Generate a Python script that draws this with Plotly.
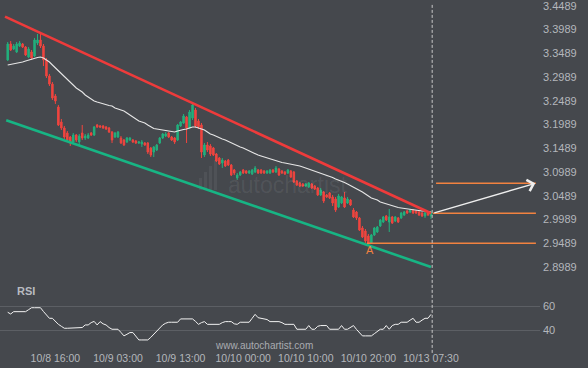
import plotly.graph_objects as go

# ---------------- data ----------------
tick_idx = [16, 37, 58, 79, 100, 121, 142]
tick_labels = ["10/8 16:00", "10/9 03:00", "10/9 13:00", "10/10 00:00",
               "10/10 10:00", "10/10 20:00", "10/13 07:30"]

open_ = [3.3346, 3.3683, 3.3578, 3.3515, 3.3641, 3.3683, 3.3620, 3.3410, 3.3515, 3.3431,
         3.3704, 3.3767, 3.3641, 3.3346, 3.3010, 3.2841, 3.2589, 3.2358, 3.2042, 3.1916,
         3.1810, 3.1726, 3.1621, 3.1768, 3.1621, 3.1810, 3.1705, 3.1705, 3.1810, 3.1768,
         3.1979, 3.1958, 3.1958, 3.1937, 3.1916, 3.1831, 3.1726, 3.1726, 3.1705, 3.1663,
         3.1621, 3.1663, 3.1663, 3.1642, 3.1600, 3.1579, 3.1600, 3.1600, 3.1495, 3.1410,
         3.1452, 3.1600, 3.1705, 3.1747, 3.1810, 3.1726, 3.1705, 3.1663, 3.1958, 3.2021,
         3.2147, 3.1916, 3.2126, 3.2294, 3.2063, 3.1979, 3.1347, 3.1558, 3.1537, 3.1495,
         3.1368, 3.1284, 3.1179, 3.1221, 3.1242, 3.1137, 3.1031, 3.0863, 3.0926, 3.1031,
         3.1010, 3.0968, 3.0947, 3.0989, 3.1031, 3.1031, 3.1010, 3.0968, 3.0968, 3.1031,
         3.0989, 3.1053, 3.1010, 3.0989, 3.0968, 3.1010, 3.0989, 3.0800, 3.0758, 3.0737,
         3.0695, 3.0674, 3.0737, 3.0695, 3.0653, 3.0506, 3.0569, 3.0506, 3.0548, 3.0464,
         3.0422, 3.0253, 3.0337, 3.0443, 3.0337, 3.0400, 3.0190, 3.0148, 3.0022, 2.9811,
         2.9748, 2.9643, 2.9495, 2.9664, 2.9727, 2.9853, 2.9937, 3.0064, 2.9937, 3.0043,
         2.9958, 3.0022, 3.0022, 3.0085, 3.0169, 3.0148, 3.0190, 3.0169, 3.0148, 3.0127,
         3.0064, 3.0148, 3.0064]

high_ = [3.3725, 3.3746, 3.3683, 3.3725, 3.3746, 3.3704, 3.3641, 3.3620, 3.3557, 3.3810,
         3.3894, 3.3915, 3.3683, 3.3389, 3.3052, 3.2883, 3.2631, 3.2400, 3.2105, 3.1958,
         3.1852, 3.1747, 3.1810, 3.1789, 3.1789, 3.1979, 3.1789, 3.1810, 3.1831, 3.1958,
         3.2000, 3.1979, 3.1979, 3.1958, 3.1937, 3.1852, 3.1831, 3.1852, 3.1747, 3.1684,
         3.1726, 3.1726, 3.1684, 3.1663, 3.1642, 3.1663, 3.1621, 3.1621, 3.1516, 3.1537,
         3.1579, 3.1726, 3.1810, 3.1831, 3.1831, 3.1747, 3.1726, 3.2000, 3.2063, 3.2210,
         3.2168, 3.2294, 3.2463, 3.2337, 3.2105, 3.2021, 3.1600, 3.1621, 3.1579, 3.1516,
         3.1389, 3.1305, 3.1284, 3.1242, 3.1263, 3.1158, 3.1053, 3.0968, 3.1010, 3.1053,
         3.1031, 3.1031, 3.1053, 3.1116, 3.1053, 3.1053, 3.1031, 3.1031, 3.1053, 3.1053,
         3.1116, 3.1074, 3.1031, 3.1010, 3.1053, 3.1031, 3.1010, 3.0821, 3.0779, 3.0758,
         3.0758, 3.0779, 3.0758, 3.0716, 3.0674, 3.0653, 3.0590, 3.0527, 3.0569, 3.0506,
         3.0464, 3.0527, 3.0485, 3.0569, 3.0464, 3.0422, 3.0232, 3.0169, 3.0043, 2.9853,
         2.9790, 2.9685, 2.9685, 2.9832, 2.9853, 3.0001, 3.0064, 3.0085, 3.0211, 3.0064,
         3.0064, 3.0043, 3.0148, 3.0169, 3.0190, 3.0211, 3.0211, 3.0190, 3.0169, 3.0148,
         3.0148, 3.0169, 3.0169]

low_ = [3.3325, 3.3536, 3.3557, 3.3494, 3.3620, 3.3599, 3.3431, 3.3389, 3.3346, 3.3410,
        3.3662, 3.3599, 3.3220, 3.2968, 3.2799, 3.2505, 3.2421, 3.1958, 3.1873, 3.1684,
        3.1621, 3.1537, 3.1579, 3.1621, 3.1537, 3.1663, 3.1663, 3.1684, 3.1747, 3.1747,
        3.1916, 3.1916, 3.1895, 3.1873, 3.1810, 3.1600, 3.1705, 3.1705, 3.1579, 3.1537,
        3.1600, 3.1642, 3.1600, 3.1579, 3.1579, 3.1516, 3.1537, 3.1368, 3.1305, 3.1305,
        3.1431, 3.1579, 3.1684, 3.1726, 3.1705, 3.1642, 3.1579, 3.1642, 3.1937, 3.2000,
        3.1600, 3.1895, 3.2084, 3.1916, 3.1895, 3.1284, 3.1305, 3.1410, 3.1326, 3.1326,
        3.1200, 3.1137, 3.1074, 3.1095, 3.1116, 3.0905, 3.0926, 3.0821, 3.0905, 3.0947,
        3.0947, 3.0947, 3.0926, 3.0968, 3.0947, 3.0947, 3.0947, 3.0947, 3.0947, 3.0968,
        3.0968, 3.0905, 3.0947, 3.0926, 3.0947, 3.0863, 3.0758, 3.0695, 3.0674, 3.0674,
        3.0674, 3.0653, 3.0632, 3.0611, 3.0485, 3.0485, 3.0337, 3.0443, 3.0422, 3.0274,
        3.0148, 3.0232, 3.0316, 3.0232, 3.0316, 3.0274, 3.0022, 2.9979, 2.9748, 2.9601,
        2.9495, 2.9474, 2.9474, 2.9643, 2.9706, 2.9832, 2.9916, 2.9958, 2.9727, 2.9895,
        2.9937, 2.9916, 3.0001, 3.0064, 3.0106, 3.0127, 3.0106, 3.0106, 3.0064, 3.0043,
        3.0022, 3.0064, 3.0001]

close_ = [3.3683, 3.3557, 3.3641, 3.3683, 3.3704, 3.3620, 3.3452, 3.3578, 3.3389, 3.3767,
          3.3767, 3.3641, 3.3346, 3.3010, 3.2841, 3.2547, 3.2484, 3.1979, 3.1916, 3.1726,
          3.1663, 3.1600, 3.1768, 3.1663, 3.1747, 3.1705, 3.1747, 3.1768, 3.1768, 3.1937,
          3.1937, 3.1937, 3.1916, 3.1895, 3.1831, 3.1663, 3.1810, 3.1831, 3.1600, 3.1558,
          3.1705, 3.1705, 3.1621, 3.1600, 3.1621, 3.1621, 3.1558, 3.1410, 3.1347, 3.1516,
          3.1558, 3.1705, 3.1789, 3.1789, 3.1726, 3.1663, 3.1621, 3.1979, 3.2042, 3.2168,
          3.1916, 3.2252, 3.2400, 3.1958, 3.1937, 3.1410, 3.1558, 3.1452, 3.1368, 3.1347,
          3.1221, 3.1158, 3.1242, 3.1116, 3.1137, 3.0926, 3.0968, 3.0926, 3.0989, 3.0968,
          3.0968, 3.1010, 3.1031, 3.1074, 3.0968, 3.0968, 3.0968, 3.1010, 3.1031, 3.0989,
          3.1074, 3.0926, 3.0968, 3.0947, 3.1031, 3.0884, 3.0779, 3.0716, 3.0695, 3.0695,
          3.0737, 3.0758, 3.0653, 3.0632, 3.0506, 3.0611, 3.0379, 3.0464, 3.0443, 3.0337,
          3.0190, 3.0485, 3.0464, 3.0253, 3.0422, 3.0295, 3.0043, 3.0022, 2.9769, 2.9622,
          2.9537, 2.9495, 2.9664, 2.9811, 2.9832, 2.9979, 3.0043, 2.9979, 3.0043, 2.9916,
          3.0043, 2.9937, 3.0127, 3.0148, 3.0127, 3.0190, 3.0127, 3.0127, 3.0085, 3.0064,
          3.0127, 3.0085, 3.0148]

ma_ = [3.3241, 3.3252, 3.3262, 3.3273, 3.3283, 3.3304, 3.3325, 3.3346, 3.3367, 3.3389,
       3.3399, 3.3410, 3.3389, 3.3346, 3.3304, 3.3241, 3.3178, 3.3115, 3.3052, 3.2989,
       3.2925, 3.2883, 3.2820, 3.2757, 3.2715, 3.2673, 3.2610, 3.2568, 3.2526, 3.2484,
       3.2463, 3.2442, 3.2421, 3.2400, 3.2389, 3.2379, 3.2337, 3.2315, 3.2294, 3.2273,
       3.2231, 3.2189, 3.2147, 3.2105, 3.2063, 3.2042, 3.2021, 3.1979, 3.1937, 3.1905,
       3.1895, 3.1884, 3.1873, 3.1863, 3.1852, 3.1842, 3.1831, 3.1852, 3.1873, 3.1884,
       3.1895, 3.1916, 3.1937, 3.1937, 3.1916, 3.1895, 3.1873, 3.1831, 3.1789, 3.1768,
       3.1737, 3.1705, 3.1684, 3.1663, 3.1632, 3.1600, 3.1579, 3.1537, 3.1516, 3.1495,
       3.1463, 3.1431, 3.1410, 3.1379, 3.1347, 3.1326, 3.1305, 3.1284, 3.1263, 3.1242,
       3.1221, 3.1200, 3.1189, 3.1179, 3.1168, 3.1158, 3.1147, 3.1137, 3.1116, 3.1095,
       3.1074, 3.1053, 3.1031, 3.1010, 3.0989, 3.0968, 3.0947, 3.0926, 3.0905, 3.0874,
       3.0842, 3.0821, 3.0800, 3.0768, 3.0737, 3.0706, 3.0674, 3.0643, 3.0611, 3.0569,
       3.0527, 3.0485, 3.0443, 3.0422, 3.0400, 3.0358, 3.0337, 3.0316, 3.0295, 3.0274,
       3.0253, 3.0242, 3.0232, 3.0221, 3.0211, 3.0211, 3.0200, 3.0190, 3.0179, 3.0169,
       3.0169, 3.0158, 3.0148]

rsi_ = [54.9, 53.5, 55.4, 55.4, 55.4, 55.4, 55.4, 57.0, 58.6, 58.6,
        58.6, 58.6, 55.5, 53.0, 50.0, 50.0, 47.5, 45.1, 43.5, 41.9,
        41.9, 41.9, 41.9, 41.9, 41.9, 42.5, 44.6, 44.6, 46.5, 47.5,
        44.6, 47.3, 45.5, 44.6, 42.5, 41.1, 41.1, 41.1, 38.5, 35.7,
        37.0, 38.4, 38.4, 35.5, 32.4, 32.4, 32.4, 32.4, 34.5, 37.0,
        39.2, 42.0, 44.6, 46.0, 46.8, 46.8, 46.8, 46.8, 49.5, 49.5,
        49.5, 49.5, 49.5, 47.5, 45.1, 46.5, 47.3, 45.1, 45.1, 45.1,
        45.1, 45.1, 46.5, 47.3, 47.3, 47.3, 45.5, 45.1, 46.8, 46.8,
        46.8, 46.8, 50.0, 53.2, 50.5, 50.0, 50.0, 49.0, 47.3, 47.3,
        47.3, 47.3, 46.5, 45.1, 45.1, 45.1, 45.1, 41.1, 41.1, 41.1,
        41.1, 44.1, 41.1, 41.1, 43.5, 44.1, 44.1, 44.1, 41.1, 41.1,
        41.1, 41.1, 44.1, 41.1, 41.1, 42.5, 44.1, 41.0, 38.0, 35.7,
        35.7, 35.7, 35.7, 37.5, 39.5, 41.1, 41.1, 44.1, 41.1, 44.1,
        45.1, 45.1, 46.8, 46.8, 46.8, 48.5, 50.0, 46.8, 46.8, 48.5,
        50.0, 50.0, 53.2]

# channel (resistance / support) end points: (bar index, price)
resist_idx = [-0.9, 142.0]
resist_px = [3.4260, 3.0122]
support_idx = [-0.5, 142.0]
support_px = [3.2077, 2.8990]

# horizontal levels: price, start index, end index
level_px = [2.9489, 3.0120, 3.0752]
level_start = [120.5, 142.6, 143.7]
level_end = [177.2, 177.2, 177.2]

# forecast arrow: from (index, price) to (index, price)
arrow_from = (142.6, 3.0120)
arrow_to = (177.0, 3.0752)
now_idx = 142.4
pattern_point = (121.4, 2.9348)

price_ticks = [2.8989, 2.9489, 2.9989, 3.0489, 3.0989, 3.1489,
               3.1989, 3.2489, 3.2989, 3.3489, 3.3989, 3.4489]
rsi_ticks = [40, 60]

# ---------------- styling ----------------
BG = "#45484d"
GREEN = "#22b07d"
RED = "#f0453f"
ORANGE = "#f28240"
LABEL = "#b4b7bc"
FONT = "Arial, Liberation Sans, sans-serif"

idx = list(range(len(close_)))

fig = go.Figure()

fig.add_trace(go.Candlestick(
    x=idx, open=open_, high=high_, low=low_, close=close_,
    increasing=dict(line=dict(color=GREEN, width=1), fillcolor=GREEN),
    decreasing=dict(line=dict(color=RED, width=1), fillcolor=RED),
    whiskerwidth=0, xaxis="x", yaxis="y", hoverinfo="skip"))

fig.add_trace(go.Scatter(x=idx, y=ma_, mode="lines",
                         line=dict(color="#e6e6e6", width=1.1), yaxis="y", hoverinfo="skip"))

fig.add_trace(go.Scatter(x=resist_idx, y=resist_px, mode="lines",
                         line=dict(color="#ee3b3b", width=2.6), yaxis="y", hoverinfo="skip"))
fig.add_trace(go.Scatter(x=support_idx, y=support_px, mode="lines",
                         line=dict(color="#17b584", width=2.6), yaxis="y", hoverinfo="skip"))

for p, s, e in zip(level_px, level_start, level_end):
    fig.add_trace(go.Scatter(x=[s, e], y=[p, p], mode="lines",
                             line=dict(color=ORANGE, width=1.4), yaxis="y", hoverinfo="skip"))

fig.add_trace(go.Scatter(x=idx, y=rsi_, mode="lines",
                         line=dict(color="#f2f2f2", width=1), yaxis="y2", hoverinfo="skip"))

PLOT_H = 347
price_top_px, price_bot_px = 0, 275
rsi_top_px, rsi_bot_px = 285, 347

fig.update_layout(
    template="none",
    width=588, height=368,
    margin=dict(l=0, r=48, t=0, b=368 - PLOT_H, pad=0, autoexpand=False),
    paper_bgcolor=BG, plot_bgcolor=BG,
    showlegend=False, hovermode=False,
    font=dict(family=FONT, color=LABEL, size=11),
    xaxis=dict(range=[-2.583, 178.57], anchor="y2", automargin=False,
               tickvals=tick_idx, ticktext=tick_labels, ticklabelstandoff=3,
               showgrid=False, zeroline=False, showline=False, ticks="",
               tickfont=dict(size=10.5, color=LABEL),
               rangeslider=dict(visible=False)),
    yaxis=dict(domain=[(PLOT_H - price_bot_px) / PLOT_H, 1], range=[2.8822, 3.4609],
               side="right", anchor="x", automargin=False, ticklabeloverflow="allow",
               tickvals=price_ticks, ticktext=[f"{v:.4f}" for v in price_ticks],
               ticklabelstandoff=2,
               showgrid=False, zeroline=False, showline=False, ticks="",
               tickfont=dict(size=11, color=LABEL)),
    yaxis2=dict(domain=[0, (PLOT_H - rsi_top_px) / PLOT_H], range=[26.67, 77.07],
                side="right", anchor="x", automargin=False, ticklabeloverflow="allow",
                tickvals=rsi_ticks, ticktext=[str(v) for v in rsi_ticks],
                ticklabelstandoff=2,
                showgrid=True, gridcolor="#5c5f64", gridwidth=1,
                zeroline=False, showline=False, ticks="",
                tickfont=dict(size=11, color=LABEL)),
)

# current-bar dashed line
fig.add_shape(type="line", xref="x", yref="paper", x0=now_idx, x1=now_idx,
              y0=-0.017, y1=0.988, line=dict(color="#c8c8c8", width=1, dash="3px,2px"))

# faint watermark logo bars
for x0, top in [(199, 178), (204, 172), (209, 166), (214, 160)]:
    fig.add_shape(type="rect", xref="paper", yref="paper",
                  x0=x0 / 540, x1=(x0 + 3) / 540,
                  y0=(PLOT_H - 190) / PLOT_H, y1=(PLOT_H - top) / PLOT_H,
                  line=dict(width=0), fillcolor="rgba(255,255,255,0.06)", layer="below")

# forecast arrow
fig.add_annotation(x=arrow_to[0], y=arrow_to[1], ax=arrow_from[0], ay=arrow_from[1],
                   xref="x", yref="y", axref="x", ayref="y", text="",
                   showarrow=True, arrowhead=4, arrowsize=1.6, arrowwidth=1.4,
                   arrowcolor="#eeeeee", standoff=0, startstandoff=0)

fig.add_annotation(x=pattern_point[0], y=pattern_point[1], xref="x", yref="y",
                   text="A", showarrow=False, font=dict(color=ORANGE, size=11, family=FONT))

fig.add_annotation(x=15 / 540, y=(PLOT_H - 291) / PLOT_H, xref="paper", yref="paper",
                   text="<b>RSI</b>", showarrow=False, xanchor="left", yanchor="middle",
                   font=dict(color="#b8bbc0", size=11, family=FONT))

fig.add_annotation(x=264 / 540, y=(PLOT_H - 345) / PLOT_H, xref="paper", yref="paper",
                   text="www.autochartist.com", showarrow=False, xanchor="center",
                   yanchor="middle", font=dict(color="#a9acb1", size=10, family=FONT))

fig.add_annotation(x=288 / 540, y=(PLOT_H - 185) / PLOT_H, xref="paper", yref="paper",
                   text="autochartist", showarrow=False, xanchor="center", yanchor="middle",
                   font=dict(color="rgba(255,255,255,0.08)", size=23, family=FONT))

fig.write_html("out.html", config={"displayModeBar": False},
               post_script="document.body.style.margin='0px';")
